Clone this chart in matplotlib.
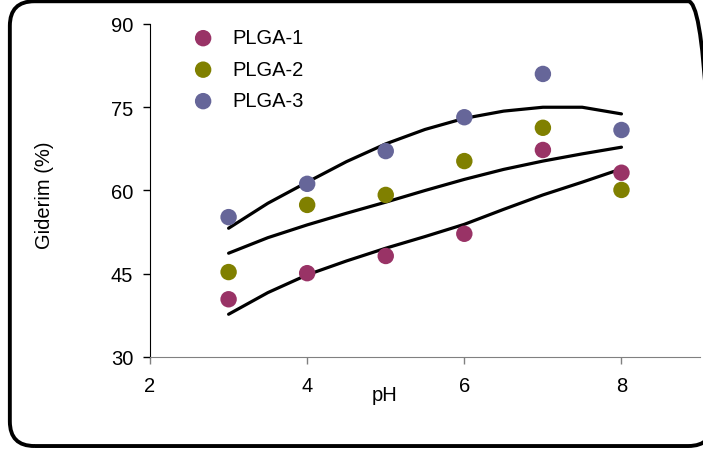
import numpy as np
import matplotlib.pyplot as plt
from matplotlib.patches import FancyBboxPatch

plt.rcParams['font.family'] = ['Liberation Sans', 'DejaVu Sans']

ph = [3, 4, 5, 6, 7, 8]
plga1 = [40.4, 45.1, 48.2, 52.2, 67.3, 63.2]
plga2 = [45.3, 57.4, 59.2, 65.3, 71.3, 60.1]
plga3 = [55.2, 61.2, 67.1, 73.2, 81.0, 70.9]

# trend lines
trend_x = [3, 3.5, 4, 4.5, 5, 5.5, 6, 6.5, 7, 7.5, 8]
trend1 = [37.7, 41.6, 44.8, 47.3, 49.6, 51.7, 53.9, 56.6, 59.2, 61.5, 63.9]
trend2 = [48.7, 51.5, 53.8, 55.9, 57.9, 60.0, 62.0, 63.8, 65.3, 66.6, 67.8]
trend3 = [53.2, 57.7, 61.5, 65.2, 68.4, 71.0, 73.0, 74.3, 75.0, 75.0, 73.8]

colors = ['#993366', '#808000', '#666699']
labels = ['PLGA-1', 'PLGA-2', 'PLGA-3']

fig = plt.figure(figsize=(7.03, 4.52), dpi=100)
ax = fig.add_axes([0.2134, 0.208, 0.7824, 0.7367])

for y, c, l in zip([plga1, plga2, plga3], colors, labels):
    ax.scatter(ph, y, s=140, color=c, label=l, zorder=3, edgecolors='none')

for t in [trend1, trend2, trend3]:
    ax.plot(trend_x, t, color='black', lw=2.3, zorder=2, solid_capstyle='round')

ax.set_xlim(2, 9)
ax.set_ylim(30, 90)
ax.set_xticks([2, 4, 6, 8])
ax.set_yticks([30, 45, 60, 75, 90])
ax.tick_params(labelsize=14.5, direction='out', length=5, width=1, pad=7)
ax.tick_params(axis='x', colors='#808080', labelcolor='black', pad=9)
for s in ['top', 'right']:
    ax.spines[s].set_visible(False)
ax.spines['bottom'].set_color('#808080')
ax.spines['left'].set_color('black')
ax.set_xlabel('pH', fontsize=14.5)
ax.set_ylabel('Giderim (%)', fontsize=14.5)
ax.xaxis.label.set_va('center')
ax.yaxis.label.set_va('center')
ax.xaxis.set_label_coords(0.427, -0.113)
ax.yaxis.set_label_coords(-0.191, 0.49)

leg = ax.legend(loc='upper left', bbox_to_anchor=(0.027, 1.041), frameon=False,
                fontsize=14.5, handletextpad=0.45, labelspacing=0.62, scatterpoints=1)

box = FancyBboxPatch((0.014, 0.011), 1.0, 0.984, boxstyle='round,pad=0,rounding_size=0.035',
                     transform=fig.transFigure, fill=False, lw=2.8, ec='black',
                     mutation_aspect=703 / 452)
fig.patches.append(box)

fig.savefig('out.png', dpi=100)
